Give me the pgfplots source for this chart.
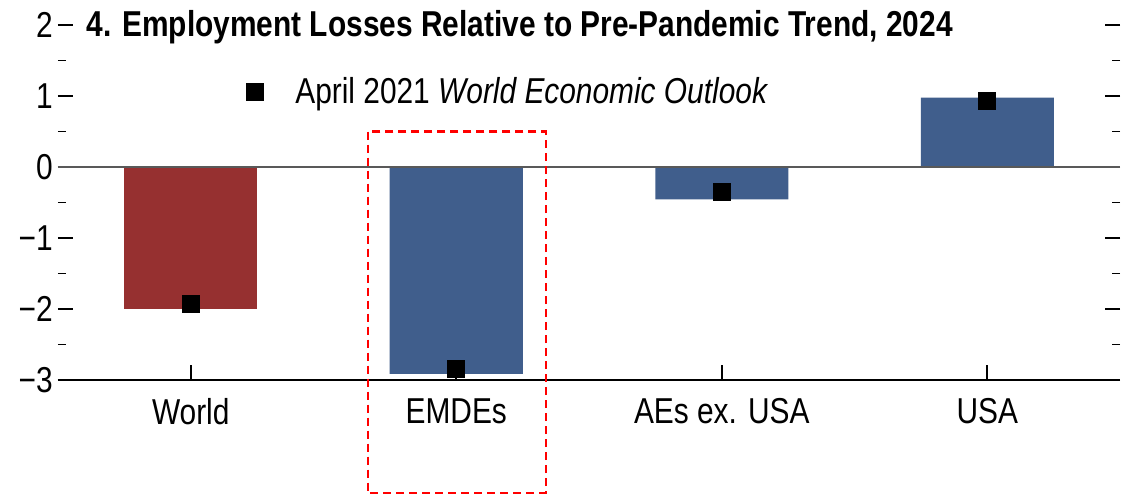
\documentclass[border=0pt]{standalone}
\usepackage{fontspec}
\setmainfont{Liberation Sans}[FakeStretch=0.83]
\usepackage{pgfplots}
\pgfplotsset{compat=1.18}
\definecolor{barred}{RGB}{150,48,48}
\definecolor{barblue}{RGB}{64,94,140}
\begin{document}
\begin{tikzpicture}[font=\fontsize{18}{21}\selectfont]
\begin{axis}[name=ax, scale only axis, width=531pt, height=177.5pt,
  xmin=-0.5, xmax=3.5, ymin=-3, ymax=2,
  axis x line*=bottom, x axis line style={line width=1.3pt},
  y axis line style={draw=none},
  xtick={0,1,2,3}, xticklabels={World,EMDEs,AEs ex. USA,USA},
  ytick={-3,-2,-1,0,1,2}, yticklabels={−3,−2,−1,0,1,2},
  minor y tick num=1, yticklabel pos=left,
  tick align=inside, major tick length=7.5pt, minor tick length=4pt,
  tick style={black, line width=0.9pt},
  x tick label style={inner sep=0pt, yshift=-9pt},
  y tick label style={inner sep=0pt, xshift=-2.4pt},
  bar width=66.5pt, bar shift=0pt,
  clip=false,
  legend style={at={(0.177,0.811)}, anchor=west, draw=none, fill=none,
    inner sep=0pt, /tikz/every odd column/.append style={column sep=14pt}},
  legend image code/.code={\draw[#1] plot coordinates {(0pt,0pt)};},
]
% bars
\addplot[ybar, fill=barred, draw=none, forget plot] coordinates {(0,-2.0)};
\addplot[ybar, fill=barblue, draw=none, forget plot] coordinates {(1,-2.915) (2,-0.455) (3,0.976)};
% zero line
\draw[black!65, line width=0.9pt] (axis cs:-0.5,0) -- (axis cs:3.5,0);
% April 2021 WEO
\addplot[only marks, mark=square*, mark size=4.25pt, black] coordinates {(0,-1.93) (1,-2.84) (2,-0.345) (3,0.93)};
\addlegendentry{April 2021 \textit{World Economic Outlook}}
% title and highlight box
\node[anchor=base west, inner sep=0pt, font=\fontsize{18}{21}\selectfont\bfseries, xshift=14pt, yshift=-5.85pt] at (rel axis cs:0,1) {4. Employment Losses Relative to Pre-Pandemic Trend, 2024};
\draw[red, line width=1.1pt, dash pattern=on 4pt off 2.5pt] (axis cs:0.667,0.5) rectangle (axis cs:1.337,-4.59);
\end{axis}
\path (ax.south west) ++(-29pt,-57.5pt) rectangle ++(566pt,247.5pt);
\end{tikzpicture}
\end{document}
